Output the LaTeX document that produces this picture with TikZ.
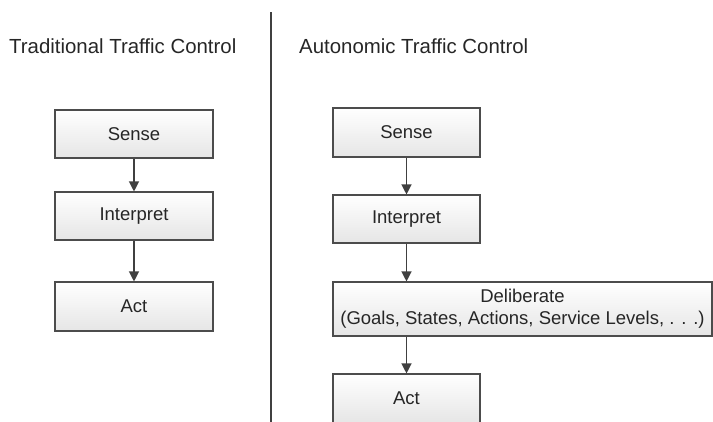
\documentclass[tikz,border=0pt]{standalone}
\usepackage{fontspec}
\setmainfont{Liberation Sans}
\usetikzlibrary{arrows.meta}

\begin{document}
\begin{tikzpicture}[x=1pt, y=-1pt]
        \tikzstyle{every node}=[text=black!85, font=\fontsize{18.5}{22}\selectfont, inner sep=0pt]
        \tikzstyle{stage}=[draw=black!70, line width=1.1pt, top color=white, bottom color=black!10, align=center]
        \tikzstyle{flow}=[draw=black!75, line width=1.2pt, -{Triangle[length=10pt, width=10pt]}]
        \tikzstyle{heading}=[font=\fontsize{20.4}{24}\selectfont, anchor=west]

        \useasboundingbox (0,0) rectangle (713,421);

% left side: the classic loop
        \node[heading] (thead) at (9,46) {Traditional Traffic Control};
        \node[stage, minimum width=158pt, minimum height=48pt] (tsense) at (134,134) {Sense};
        \node[stage, minimum width=158pt, minimum height=48pt] (tinterp) at (134,216) {Interpret};
        \node[stage, minimum width=158pt, minimum height=49pt] (tact) at (134,306.5) {Act};

        \draw[flow] (tsense) -- (tinterp);
        \draw[flow] (tinterp) -- (tact);

% divider
        \coordinate (dtop) at (271,12);
        \coordinate (dbot) at (271,430);
        \draw[black!75, line width=2.6pt] (dtop) -- (dbot);

% right side: with deliberation
        \node[heading] (ahead) at (299,46) {Autonomic Traffic Control};
        \node[stage, minimum width=147pt, minimum height=49pt] (asense) at (406.5,132.5) {Sense};
        \node[stage, minimum width=147pt, minimum height=48pt] (ainterp) at (406.5,219) {Interpret};
        \node[stage, minimum width=379pt, minimum height=54pt] (adelib) at (522.5,309) {Deliberate\\(Goals, States, Actions, Service Levels, . . .)};
        \node[stage, minimum width=147pt, minimum height=49pt] (aact) at (406.5,398.5) {Act};

        \draw[flow] (asense) -- (ainterp);
        \draw[flow] (ainterp.south) -- (ainterp.south |- adelib.north);
        \draw[flow] (adelib.south -| aact.north) -- (aact.north);

    \end{tikzpicture}
\end{document}
